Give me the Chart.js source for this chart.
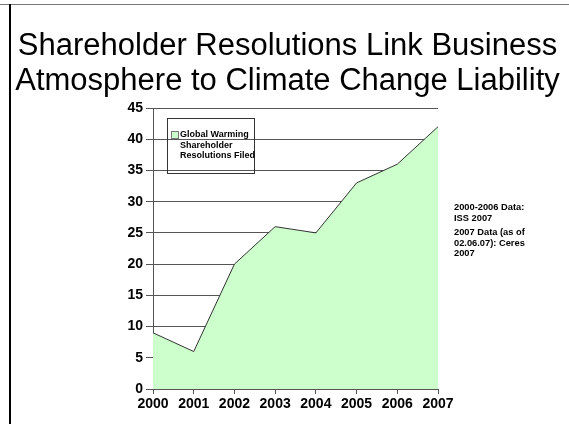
<!DOCTYPE html>
<html>
<head>
<meta charset="utf-8">
<script src="https://cdn.jsdelivr.net/npm/chart.js@4"></script>
<style>
  body { margin: 0; background: #fff; }
  #wrap { position: relative; width: 569px; height: 424px; overflow: hidden; font-family: "Liberation Sans", Arial, sans-serif; }
  #chart { position: absolute; left: 0; top: 0; }
  .frameTop { position: absolute; left: 0; top: 4px; width: 569px; height: 1px; background: #777; }
  .frameLeft { position: absolute; left: 9px; top: 4px; width: 2px; height: 420px; background: #000; }
  .title { position: absolute; left: 0; top: 27px; width: 575px; text-align: center; font-size: 31px; line-height: 35px; color: #000; white-space: nowrap; }
  .legend { position: absolute; left: 167px; top: 118px; width: 86px; height: 54px; border: 1px solid #333; font-size: 9px; font-weight: bold; line-height: 10.5px; white-space: nowrap; }
  .legend .sw { position: absolute; left: 3px; top: 12px; width: 6px; height: 6px; background: #ccffcc; border: 1px solid #777; }
  .legend .txt { position: absolute; left: 12px; top: 10px; }
  .notes { position: absolute; left: 454px; top: 202px; font-size: 9.3px; font-weight: bold; line-height: 10.5px; color: #000; white-space: nowrap; }
  .notes p { margin: 0 0 4px 0; }
</style>
</head>
<body>
<div id="wrap">
  <canvas id="chart" width="569" height="424"></canvas>
  <div class="frameTop"></div>
  <div class="frameLeft"></div>
  <div class="title">Shareholder Resolutions Link Business<br>Atmosphere to Climate Change Liability</div>
  <div class="legend">
    <div class="sw"></div>
    <div class="txt"><div>Global Warming</div><div>Shareholder</div><div>Resolutions Filed</div></div>
  </div>
  <div class="notes">
    <p>2000-2006 Data:<br>ISS 2007</p>
    <p>2007 Data (as of<br>02.06.07): Ceres<br>2007</p>
  </div>
</div>
<script>
// Data
const years = ['2000', '2001', '2002', '2003', '2004', '2005', '2006', '2007'];
const resolutionsFiled = [9, 6, 20, 26, 25, 33, 36, 42];
const yTicks = [0, 5, 10, 15, 20, 25, 30, 35, 40, 45];

const tickFont = { family: '"Liberation Sans", Arial, sans-serif', size: 14, weight: 'bold' };

const chart = new Chart(document.getElementById('chart'), {
    type: 'line',
    data: {
        labels: years,
        datasets: [{
            label: 'Global Warming Shareholder Resolutions Filed',
            data: resolutionsFiled,
            fill: 'origin',
            backgroundColor: '#ccffcc',
            borderColor: '#333',
            borderWidth: 1,
            pointRadius: 0,
            tension: 0
        }]
    },
    options: {
        responsive: false,
        animation: false,
        layout: { padding: { left: 0, top: 108, right: 131, bottom: 0 } },
        plugins: {
            legend: { display: false },
            tooltip: { enabled: false }
        },
        scales: {
            x: {
                offset: false,
                grid: { drawOnChartArea: false, color: '#555', tickLength: 5 },
                border: { color: '#555', width: 1 },
                ticks: { color: '#000', font: tickFont, maxRotation: 0, padding: 2 },
                afterFit: (scale) => { scale.height = 35; }
            },
            y: {
                min: 0,
                max: 45,
                afterBuildTicks: (scale) => { scale.ticks = yTicks.map(v => ({ value: v })); },
                grid: { color: '#555', tickLength: 7 },
                border: { color: '#555', width: 1 },
                ticks: { color: '#000', font: tickFont, padding: 3 },
                afterFit: (scale) => { scale.width = 153; }
            }
        }
    }
});
</script>
</body>
</html>
